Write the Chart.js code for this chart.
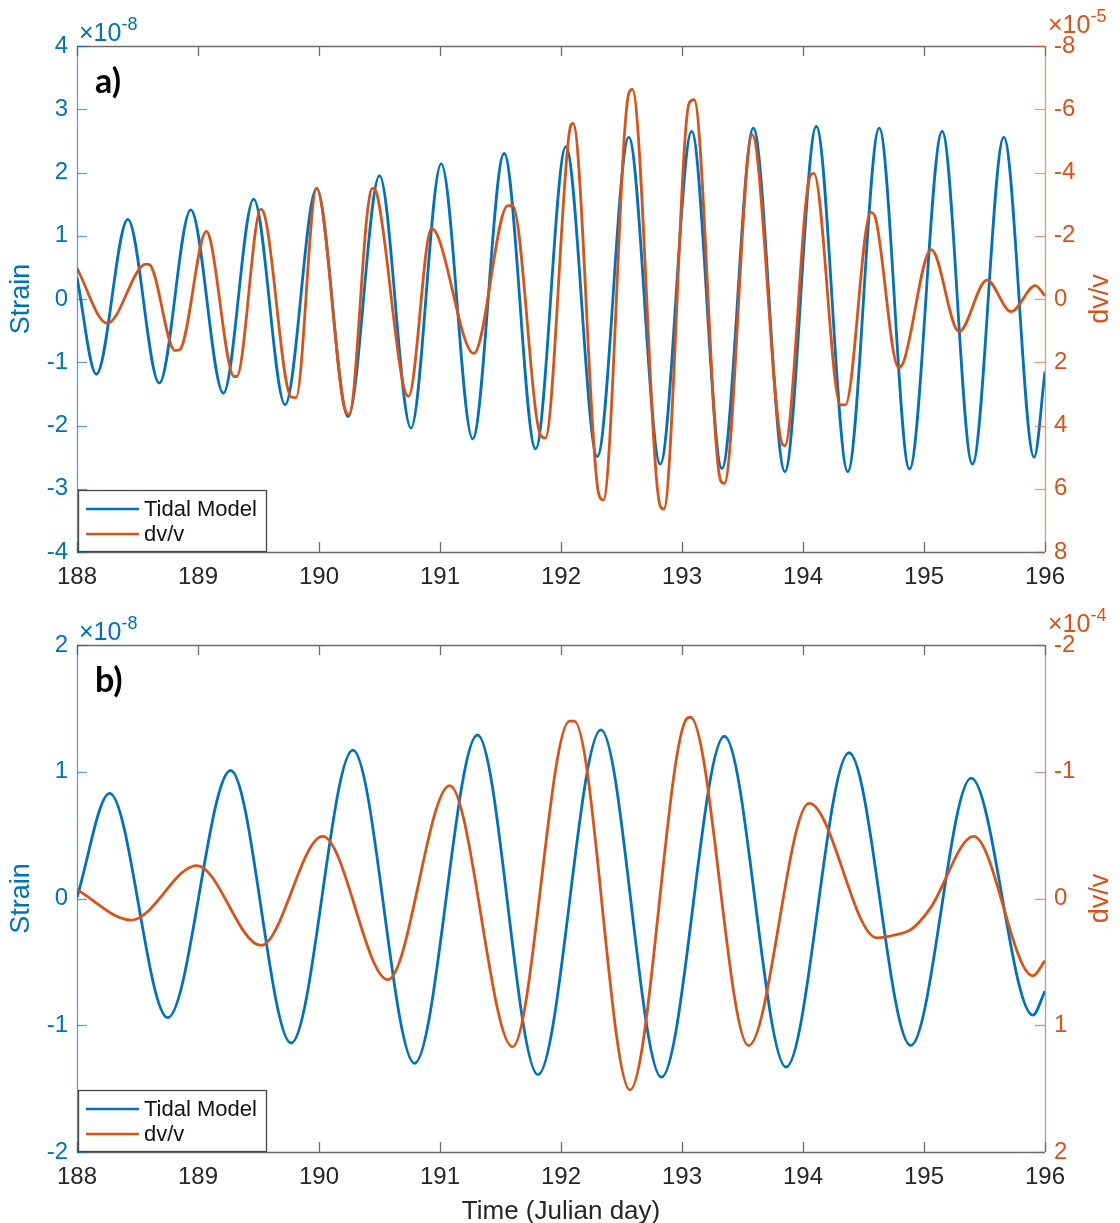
<!DOCTYPE html>
<html>
<head>
<meta charset="utf-8">
<script src="https://cdn.jsdelivr.net/npm/chart.js@4.4.1/dist/chart.umd.min.js"></script>
<style>
  html, body { margin: 0; padding: 0; background: #ffffff; }
  canvas { position: absolute; left: 0; }
  #ca { top: 0; }
  #cb { top: 600px; }
</style>
</head>
<body>
<canvas id="ca" width="1120" height="600"></canvas>
<canvas id="cb" width="1120" height="623"></canvas>
<script>
// ---------------- DATA ----------------
const xTicks = [188, 189, 190, 191, 192, 193, 194, 195, 196];

// Panel a) tidal strain (x1e-8)
const tideA_day = [188.00, 188.16, 188.42, 188.68, 188.94, 189.21, 189.46, 189.72, 189.98, 190.24,
                   190.50, 190.76, 191.01, 191.27, 191.53, 191.79, 192.04, 192.30, 192.56, 192.82,
                   193.08, 193.33, 193.59, 193.85, 194.11, 194.37, 194.63, 194.88, 195.15, 195.40,
                   195.66, 195.91, 196.00];
const tideA_val = [0.34, -1.19, 1.26, -1.33, 1.41, -1.49, 1.58, -1.67, 1.75, -1.86,
                   1.95, -2.04, 2.14, -2.21, 2.30, -2.37, 2.41, -2.49, 2.56, -2.61,
                   2.65, -2.68, 2.70, -2.73, 2.73, -2.73, 2.70, -2.69, 2.65, -2.61,
                   2.56, -2.50, -1.15];

// Panel a) dv/v (x1e-5)
const dvvA_day = [188.00, 188.25, 188.57, 188.60, 188.81, 188.85, 189.07, 189.10, 189.30, 189.32,
                  189.52, 189.56, 189.77, 189.81, 189.98, 190.22, 190.25, 190.40, 190.44, 190.48,
                  190.69, 190.74, 190.93, 190.98, 191.28, 191.56, 191.60, 191.83, 191.87, 192.07,
                  192.10, 192.31, 192.35, 192.56, 192.59, 192.82, 192.85, 193.06, 193.10, 193.32,
                  193.35, 193.58, 193.82, 193.85, 194.06, 194.09, 194.31, 194.35, 194.56, 194.60,
                  194.79, 194.83, 195.06, 195.29, 195.52, 195.72, 195.92, 196.00];
const dvvA_val = [-0.97, 0.77, -1.10, -1.08, 1.63, 1.60, -2.14, -1.90, 2.45, 2.45,
                  -2.84, -2.50, 3.10, 3.12, -3.50, 3.55, 3.65, -2.74, -3.50, -3.30,
                  2.59, 3.08, -2.23, -2.00, 1.72, -2.95, -2.95, 4.30, 4.40, -5.30,
                  -5.55, 6.14, 6.35, -6.50, -6.63, 6.55, 6.64, -6.20, -6.30, 5.75,
                  5.83, -5.20, 4.50, 4.64, -3.90, -3.97, 3.35, 3.35, -2.74, -2.55,
                  2.17, 2.00, -1.56, 1.03, -0.60, 0.40, -0.42, -0.10];

// Panel b) tidal strain (x1e-8)
const tideB_day = [188.00, 188.27, 188.75, 189.27, 189.77, 190.28, 190.79, 191.31, 191.81, 192.33,
                   192.83, 193.35, 193.86, 194.38, 194.89, 195.39, 195.90, 196.00];
const tideB_val = [0.01, 0.83, -0.94, 1.01, -1.14, 1.17, -1.30, 1.29, -1.39, 1.33,
                   -1.41, 1.28, -1.33, 1.15, -1.16, 0.95, -0.92, -0.73];

// Panel b) dv/v (x1e-4)
const dvvB_day = [188.00, 188.45, 188.99, 189.52, 190.03, 190.57, 191.08, 191.60, 192.07, 192.11,
                  192.57, 193.04, 193.07, 193.55, 194.05, 194.61, 194.75, 194.90, 195.05, 195.41,
                  195.90, 196.00];
const dvvB_val = [-0.07, 0.17, -0.26, 0.37, -0.49, 0.64, -0.89, 1.17, -1.40, -1.40,
                  1.51, -1.42, -1.43, 1.16, -0.75, 0.31, 0.29, 0.24, 0.08, -0.49,
                  0.61, 0.49];

const seriesNames = ['Tidal Model', 'dv/v'];

// ---------------- STYLE ----------------
const FONT = '"Liberation Sans", Arial, Helvetica, sans-serif';
const BLUE = '#0072BD';
const RED = '#D95319';
const AXGRAY = '#6b6b6b';
const TXT = '#262626';

function pts(xs, ys) { return xs.map((x, i) => ({ x: x, y: ys[i] })); }

const decor = {
  id: 'decor',
  afterDraw(chart, args, o) {
    const { ctx, chartArea: a, scales } = chart;
    const sx = scales.x, sy = scales.y, sy2 = scales.y2;
    const TL = 10;
    ctx.save();
    const seg = (x1, y1, x2, y2) => { ctx.beginPath(); ctx.moveTo(x1, y1); ctx.lineTo(x2, y2); ctx.stroke(); };
    ctx.lineWidth = 1.3;
    // x ticks (inward, top and bottom)
    ctx.strokeStyle = AXGRAY;
    sx.ticks.forEach(t => {
      const px = Math.round(sx.getPixelForValue(t.value)) + 0.5;
      seg(px, a.bottom, px, a.bottom - TL);
      seg(px, a.top, px, a.top + TL);
    });
    seg(a.left, a.top + 0.5, a.right, a.top + 0.5);
    seg(a.left, a.bottom + 0.5, a.right, a.bottom + 0.5);
    // left axis
    ctx.strokeStyle = 'rgba(0,114,189,0.65)';
    sy.ticks.forEach(t => {
      const py = Math.round(sy.getPixelForValue(t.value)) + 0.5;
      seg(a.left, py, a.left + TL, py);
    });
    seg(a.left + 0.5, a.top, a.left + 0.5, a.bottom);
    // right axis
    ctx.strokeStyle = o.rightLine;
    sy2.ticks.forEach(t => {
      const py = Math.round(sy2.getPixelForValue(t.value)) + 0.5;
      seg(a.right, py, a.right - TL, py);
    });
    seg(a.right + 0.5, a.top, a.right + 0.5, a.bottom);

    // exponent labels
    ctx.textBaseline = 'alphabetic';
    ctx.textAlign = 'left';
    ctx.font = '25px ' + FONT;
    ctx.fillStyle = BLUE;
    let base = '\u00d710';
    ctx.fillText(base, a.left + 2, a.top - 5);
    let w = ctx.measureText(base).width;
    ctx.font = '18px ' + FONT;
    ctx.fillText(o.leftExp, a.left + 2 + w, a.top - 16);
    ctx.font = '25px ' + FONT;
    ctx.fillStyle = RED;
    ctx.fillText(base, a.right + 3, a.top - 13);
    w = ctx.measureText(base).width;
    ctx.font = '18px ' + FONT;
    ctx.fillText(o.rightExp, a.right + 3 + w, a.top - 24);

    // panel letter
    ctx.fillStyle = '#000000';
    ctx.font = 'bold 34px Lato, "Open Sans", sans-serif';
    ctx.fillText(o.letter, a.left + 18, a.top + 47);

    // axis titles
    ctx.textAlign = 'center';
    ctx.textBaseline = 'middle';
    ctx.font = '27px ' + FONT;
    const cy = (a.top + a.bottom) / 2;
    ctx.save();
    ctx.translate(22, cy);
    ctx.rotate(-Math.PI / 2);
    ctx.fillStyle = BLUE;
    ctx.fillText('Strain', 0, 0);
    ctx.restore();
    ctx.save();
    ctx.translate(1101, cy);
    ctx.rotate(-Math.PI / 2);
    ctx.fillStyle = RED;
    ctx.fillText('dv/v', 0, 0);
    ctx.restore();
    if (o.xTitle) {
      ctx.textBaseline = 'alphabetic';
      ctx.fillStyle = TXT;
      ctx.font = '26px ' + FONT;
      ctx.fillText(o.xTitle, (a.left + a.right) / 2, a.bottom + 67);
    }

    // legend
    const bx = a.left + 1, by = a.bottom - 62, bw = 188, bh = 61;
    ctx.fillStyle = '#ffffff';
    ctx.fillRect(bx, by, bw, bh);
    ctx.strokeStyle = '#444444';
    ctx.lineWidth = 1.3;
    ctx.strokeRect(bx + 0.5, by + 0.5, bw, bh);
    const ds = chart.data.datasets;
    const rows = [ds.find(d => d.label === seriesNames[0]), ds.find(d => d.label === seriesNames[1])];
    ctx.font = '22px ' + FONT;
    ctx.textAlign = 'left';
    ctx.textBaseline = 'middle';
    rows.forEach((d, i) => {
      const ly = by + 19 + i * 25;
      ctx.strokeStyle = d.borderColor;
      ctx.lineWidth = 2.6;
      seg(a.left + 9, ly, a.left + 62, ly);
      ctx.fillStyle = '#111111';
      ctx.fillText(d.label, a.left + 67, ly + 1);
    });
    ctx.restore();
  }
};

function makeChart(id, cfg) {
  const tickFont = { family: FONT, size: 24 };
  return new Chart(document.getElementById(id), {
    type: 'line',
    data: {
      datasets: [
        { label: seriesNames[0], data: pts(cfg.tDay, cfg.tVal), yAxisID: 'y', borderColor: BLUE,
          borderWidth: 2.8, pointRadius: 0, cubicInterpolationMode: 'monotone', order: 1 },
        { label: seriesNames[1], data: pts(cfg.dDay, cfg.dVal), yAxisID: 'y2', borderColor: RED,
          borderWidth: 2.8, pointRadius: 0, cubicInterpolationMode: 'monotone', order: 0 }
      ]
    },
    options: {
      responsive: false,
      animation: false,
      devicePixelRatio: 1,
      layout: { padding: { top: cfg.padTop, left: 0, right: 0, bottom: 0 } },
      plugins: {
        legend: { display: false },
        tooltip: { enabled: false },
        decor: { letter: cfg.letter, leftExp: cfg.leftExp, rightExp: cfg.rightExp,
                 xTitle: cfg.xTitle, rightLine: cfg.rightLine }
      },
      scales: {
        x: {
          type: 'linear', min: xTicks[0], max: xTicks[xTicks.length - 1],
          afterBuildTicks: s => { s.ticks = xTicks.map(v => ({ value: v })); },
          ticks: { color: TXT, font: tickFont, padding: 11, maxRotation: 0, autoSkip: false },
          grid: { display: false, drawTicks: false },
          border: { display: false },
          afterFit: s => { s.height = cfg.xH; }
        },
        y: {
          position: 'left', min: cfg.yMin, max: cfg.yMax,
          ticks: { stepSize: cfg.yStep, color: BLUE, font: tickFont, padding: 9 },
          grid: { display: false, drawTicks: false },
          border: { display: false },
          afterFit: s => { s.width = 77; }
        },
        y2: {
          position: 'right', min: cfg.y2Min, max: cfg.y2Max, reverse: true,
          ticks: { stepSize: cfg.y2Step, color: RED, font: tickFont, padding: 9 },
          grid: { display: false, drawTicks: false },
          border: { display: false },
          afterFit: s => { s.width = 75; }
        }
      }
    },
    plugins: [decor]
  });
}

makeChart('ca', {
  tDay: tideA_day, tVal: tideA_val, dDay: dvvA_day, dVal: dvvA_val,
  padTop: 46, xH: 48, yMin: -4, yMax: 4, yStep: 1, y2Min: -8, y2Max: 8, y2Step: 2,
  letter: 'a)', leftExp: '-8', rightExp: '-5', xTitle: null, rightLine: 'rgba(217,83,25,0.6)'
});
makeChart('cb', {
  tDay: tideB_day, tVal: tideB_val, dDay: dvvB_day, dVal: dvvB_val,
  padTop: 45, xH: 71, yMin: -2, yMax: 2, yStep: 1, y2Min: -2, y2Max: 2, y2Step: 1,
  letter: 'b)', leftExp: '-8', rightExp: '-4', xTitle: 'Time (Julian day)', rightLine: 'rgba(160,90,95,0.65)'
});
</script>
</body>
</html>
